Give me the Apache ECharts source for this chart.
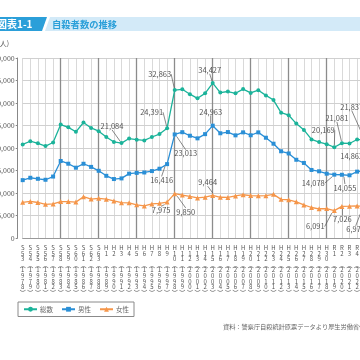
<!DOCTYPE html>
<html><head><meta charset="utf-8">
<script src="https://cdn.jsdelivr.net/npm/echarts@6/dist/echarts.min.js"></script>
<style>html,body{margin:0;padding:0;background:#fff}#c{width:360px;height:360px}</style>
</head><body><div id="c"></div>
<script>
const eras = ['S53','S54','S55','S56','S57','S58','S59','S60','S61','S62','S63',
  'H1','H2','H3','H4','H5','H6','H7','H8','H9','H10','H11','H12','H13','H14','H15','H16','H17','H18','H19','H20',
  'H21','H22','H23','H24','H25','H26','H27','H28','H29','H30','R1','R2','R3','R4','R5'];
const years = [1978,1979,1980,1981,1982,1983,1984,1985,1986,1987,1988,1989,1990,1991,1992,1993,1994,1995,1996,1997,
  1998,1999,2000,2001,2002,2003,2004,2005,2006,2007,2008,2009,2010,2011,2012,2013,2014,2015,2016,2017,2018,2019,2020,2021,2022,2023];
const total = [20788,21503,21048,20434,21228,25202,24596,23599,25667,24460,
  23742,22436,21346,21084,22104,21851,21679,22445,23104,24391,
  32863,33048,31957,31042,32143,34427,32325,32552,32155,33093,
  32249,32845,31690,30651,27858,27283,25427,24025,21897,21321,
  20840,20169,21081,21007,21881,21837];
const male = [12859,13386,13155,12942,13654,17116,16508,15624,16497,15802,
  14934,13818,13102,13242,14296,14468,14560,14874,15393,16416,
  23013,23512,22727,22144,23080,24963,23272,23540,22813,23478,
  22831,23472,22283,20955,19273,18787,17386,16681,15121,14826,
  14290,14078,14055,13939,14746,14862];
const female = [7929,8117,7893,7492,7574,8086,8088,7975,9170,8658,
  8808,8618,8244,7842,7808,7383,7119,7571,7711,7975,
  9850,9536,9230,8898,9063,9464,9053,9012,9342,9615,
  9418,9373,9407,9696,8585,8496,8041,7344,6776,6495,
  6550,6091,7026,7068,7135,6975];
const seriesNames = ['総数','男性','女性'];
const labeled = [[13,19,20,25,41,42,45],[19,20,25,41,42,45],[19,20,25,41,42,45]];

// label offsets (layout only)
const labelOffsets = [
  {13:[-9.5,-17],19:[-15.5,-16],20:[-15,-16],25:[-3,-13],41:[-11,-17],42:[-5,-25],45:[-13,-33]},
  {19:[-5.5,16],20:[11,19],25:[-2,-14],41:[-21,8.5],42:[3,13],45:[-13,-15]},
  {19:[-6,8],20:[11,18],25:[-5,-13],41:[-19,16],42:[0.5,13],45:[-9,23]}
];
const colors = ['#1bb39a','#2a8fd6','#f5964a'];
const symbols = ['circle','rect','triangle'];
const FONT = '"Noto Sans CJK JP", "Noto Sans", sans-serif';

function eraLabel(i){
  const e = eras[i].split('');
  while (e.length < 3) e.push(' ');
  return e.concat(['︵'], String(years[i]).split(''), ['︶']).join('\n');
}
function mkData(vals, si){
  return vals.map((v,i)=> labeled[si].indexOf(i) >= 0 ? {value:v, label:{show:true}} : v);
}
const valueSets = [total, male, female];
const chart = echarts.init(document.getElementById('c'), null, {renderer:'canvas'});
chart.setOption({
  animation:false,
  textStyle:{fontFamily:FONT},
  grid:{left:22.7, right:-4.7, top:58, bottom:122, containLabel:false, outerBoundsMode:'none'},
  legend:{
    left:18, top:302, orient:'horizontal',
    padding:[4,5], itemGap:8, itemWidth:13, itemHeight:6,
    borderColor:'#8a8a8a', borderWidth:1,
    textStyle:{fontSize:6.5, color:'#666', fontFamily:FONT, padding:[0,0,0,-2]},
    data:seriesNames
  },
  xAxis:[{
    type:'category', data:eras, boundaryGap:false,
    axisLine:{show:true, lineStyle:{color:'#999', width:1}},
    axisTick:{show:false},
    axisLabel:{interval:0, margin:7, fontSize:6, lineHeight:5.6, color:'#555', fontFamily:FONT,
      formatter:(v,i)=>eraLabel(i)},
    splitLine:{show:true, interval:0, lineStyle:{color:'#cfcfcf', width:0.8}}
  },{
    type:'category', data:eras, boundaryGap:false, position:'bottom',
    axisLine:{show:false}, axisTick:{show:false}, axisLabel:{show:false},
    splitLine:{show:true, interval:(idx)=> idx>0 && idx%5===0, lineStyle:{color:'#8c8c8c', width:1.3}}
  }],
  yAxis:{
    type:'value', min:0, max:40000, interval:5000, offset:5,
    axisLine:{show:true, lineStyle:{color:'#888', width:1}},
    axisTick:{show:true, length:2, lineStyle:{color:'#888'}},
    axisLabel:{margin:3, fontSize:7, color:'#555', fontFamily:FONT,
      formatter:(v)=>v.toLocaleString('en-US')},
    splitLine:{show:true, lineStyle:{color:'#c4c4c4', width:0.8}}
  },
  series: valueSets.map((vals,si)=>({
    name:seriesNames[si], type:'line', xAxisIndex:0,
    data:mkData(vals, si),
    symbol:symbols[si], symbolSize: si===2?5:4,
    itemStyle:{color:colors[si]},
    lineStyle:{color:colors[si], width:1.3},
    label:{show:false, position:'inside', fontSize:7.5, color:'#555', fontFamily:FONT,
      formatter:(p)=>p.value.toLocaleString('en-US')},
    labelLine:{show:true, lineStyle:{color:'#555', width:0.7}},
    labelLayout:(params)=>{
      const o = labelOffsets[params.seriesIndex][params.dataIndex];
      return o ? {dx:o[0], dy:o[1]} : {};
    },
    z: 3-si
  })),
  graphic:[
    {type:'rect', shape:{x:0, y:17, width:360, height:14}, style:{fill:'#d3eaf8'}, silent:true},
    {type:'polygon', shape:{points:[[-5,17],[50,17],[45,31],[-5,31]]}, style:{fill:'#ffffff'}, silent:true},
    {type:'polygon', shape:{points:[[-5,17],[47,17],[42,31],[-5,31]]}, style:{fill:'#2b9fd9'}, silent:true},
    {type:'text', x:-3, y:24, style:{text:'図表1-1', fill:'#fff', font:'bold 10px '+FONT, textVerticalAlign:'middle'}, silent:true},
    {type:'text', x:52, y:24, style:{text:'自殺者数の推移', fill:'#2b9fd9', font:'bold 9.3px '+FONT, textVerticalAlign:'middle'}, silent:true},
    {type:'text', x:9, y:43, style:{text:'(人)', fill:'#555', font:'7px '+FONT, textAlign:'right', textVerticalAlign:'middle'}, silent:true},
    {type:'text', x:223, y:327, style:{text:'資料：警察庁自殺統計原票データより厚生労働省作成', fill:'#666', font:'6.2px '+FONT, textVerticalAlign:'middle'}, silent:true}
  ]
});
</script></body></html>
